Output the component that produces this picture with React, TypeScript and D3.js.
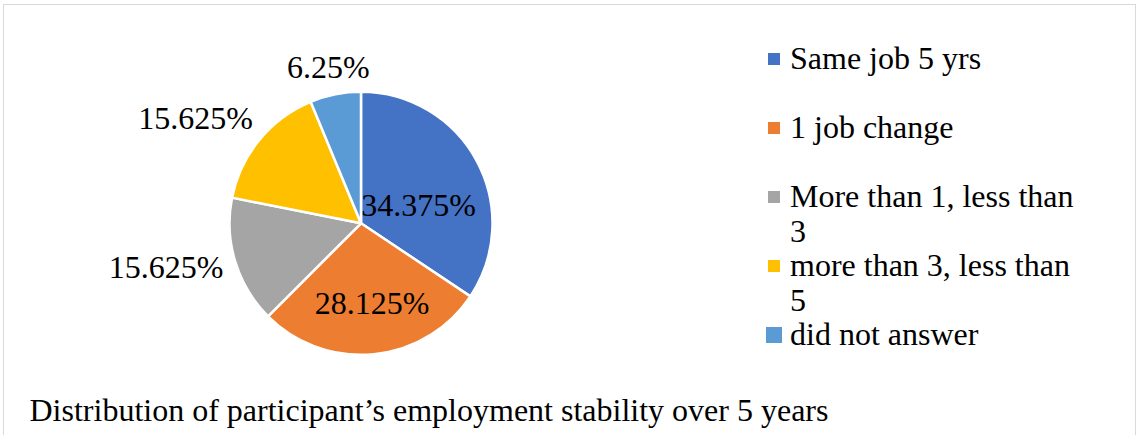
import React from "react";
import * as d3 from "d3";

const categories = [
  "Same job 5 yrs",
  "1 job change",
  "More than 1, less than 3",
  "more than 3, less than 5",
  "did not answer",
];
const values = [34.375, 28.125, 15.625, 15.625, 6.25];
const colors = ["#4472C4", "#ED7D31", "#A5A5A5", "#FFC000", "#5B9BD5"];
const title = "Distribution of participant\u2019s employment stability over 5 years";

// label placement (radius fraction, angular offset in degrees) per slice
const labelPlacement = [
  { k: 0.458, da: 11.3 },
  { k: 0.615, da: -2.2 },
  { k: 1.52, da: 4.0 },
  { k: 1.488, da: -7.1 },
  { k: 1.215, da: -0.6 },
];

const W = 1137;
const H = 435;
const FONT = "Liberation Serif";
const FS = 32;

function wrap(text: string, maxW: number): string[] {
  const c = document.createElement("canvas").getContext("2d")!;
  c.font = `${FS}px "Liberation Serif"`;
  const words = text.split(" ");
  const lines: string[] = [];
  let cur = "";
  for (const w of words) {
    const t = cur ? cur + " " + w : w;
    if (c.measureText(t).width > maxW && cur) {
      lines.push(cur);
      cur = w;
    } else cur = t;
  }
  if (cur) lines.push(cur);
  return lines;
}

const txt: React.CSSProperties = { fontFamily: '"Liberation Serif", "Times New Roman", Times, serif', fontSize: FS };

export default function App() {
  const cx = 361;
  const cy = 223.3;
  const r = 131.5;
  const pie = d3.pie<number>().sort(null).value((d) => d)(values);
  const arc = d3.arc<d3.PieArcDatum<number>>().innerRadius(0).outerRadius(r);

  const legendX = 790;
  const legendY0 = 68.5;
  const legendStep = 69;
  const lineH = 35;

  return (
    <svg
      width={W}
      height={H}
      style={{ position: "absolute", left: 0, top: 0, background: "#fff" }}
    >
      <rect x={0} y={0} width={W} height={H} fill="#fff" />
      <rect x={3.5} y={4.5} width={1132} height={H + 20} fill="none" stroke="#d9d9d9" strokeWidth={1} />
      <g transform={`translate(${cx},${cy})`}>
        {pie.map((p, i) => (
          <path key={i} d={arc(p) || ""} fill={colors[i]} stroke="#fff" strokeWidth={2.5} strokeLinejoin="round" />
        ))}
        {pie.map((p, i) => {
          const mid = (p.startAngle + p.endAngle) / 2 + (labelPlacement[i].da * Math.PI) / 180;
          const rr = r * labelPlacement[i].k;
          const x = Math.sin(mid) * rr;
          const y = -Math.cos(mid) * rr;
          return (
            <text key={i} x={x} y={y} dy={FS * 0.33} textAnchor="middle" style={txt} fill="#000">
              {`${values[i]}%`}
            </text>
          );
        })}
      </g>
      <g>
        {categories.map((c, i) => {
          const base = legendY0 + i * legendStep;
          const lines = wrap(c, 292);
          const sz = i === categories.length - 1 ? 16 : 12;
          return (
            <g key={i}>
              <rect x={774 - sz / 2} y={base - 9.5 - sz / 2} width={sz} height={sz} fill={colors[i]} />
              <text x={legendX} y={base} style={txt} fill="#000">
                {lines.map((l, j) => (
                  <tspan key={j} x={legendX} y={base + j * lineH}>
                    {l}
                  </tspan>
                ))}
              </text>
            </g>
          );
        })}
      </g>
      <text x={29.5} y={421} style={txt} fill="#000">
        {title}
      </text>
    </svg>
  );
}
